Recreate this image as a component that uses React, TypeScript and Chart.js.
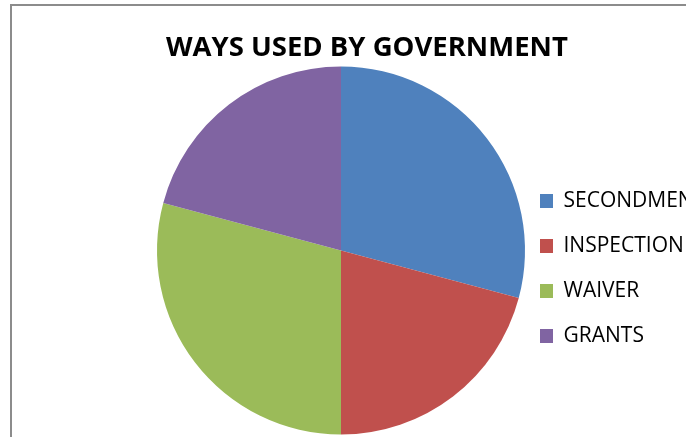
import React, { useEffect, useRef } from "react";
import { Chart, registerables } from "chart.js";

Chart.register(...registerables);

const title = "WAYS USED BY GOVERNMENT";
const categories = ["SECONDMENT", "INSPECTION", "WAIVER", "GRANTS"];
const values = [7, 5, 7, 5];
const colors = ["#4F81BD", "#C0504D", "#9BBB59", "#8064A2"];

export default function App() {
  const ref = useRef<HTMLCanvasElement | null>(null);

  useEffect(() => {
    if (!ref.current) return;
    const chart = new Chart(ref.current, {
      type: "pie",
      data: {
        labels: categories,
        datasets: [
          {
            data: values,
            backgroundColor: colors,
            borderWidth: 0,
          },
        ],
      },
      options: {
        animation: false,
        responsive: false,
        radius: 184,
        layout: { padding: { left: 166, right: 0, top: 0, bottom: 3 } },
        plugins: {
          tooltip: { enabled: false },
          title: {
            display: true,
            text: title,
            align: "start",
            color: "#000",
            font: { family: "Open Sans", size: 27.5, weight: "bold", lineHeight: 1.2 },
            padding: { top: 31.5, bottom: 2.5 },
          },
          legend: {
            position: "right",
            align: "center",
            fullSize: false,
            maxWidth: 170,
            title: {
              display: true,
              text: " ",
              color: "rgba(0,0,0,0)",
              font: { size: 10, lineHeight: 1.2 },
              padding: { top: 12, bottom: 12 },
            },
            labels: {
              color: "#000",
              boxWidth: 13,
              boxHeight: 14,
              padding: 24,
              font: { family: "Open Sans", size: 21 },
            },
          },
        },
      } as any,
    });
    return () => chart.destroy();
  }, []);

  return (
    <div
      style={{
        position: "fixed",
        left: 0,
        top: 0,
        width: 686,
        height: 437,
        overflow: "hidden",
        background: "#fff",
      }}
    >
      <div
        style={{
          position: "absolute",
          left: 10,
          top: 4,
          width: 800,
          height: 600,
          border: "2px solid #8c8c8c",
        }}
      />
      <canvas
        ref={ref}
        width={686}
        height={437}
        style={{ position: "absolute", left: 0, top: 0, width: 686, height: 437 }}
      />
    </div>
  );
}
